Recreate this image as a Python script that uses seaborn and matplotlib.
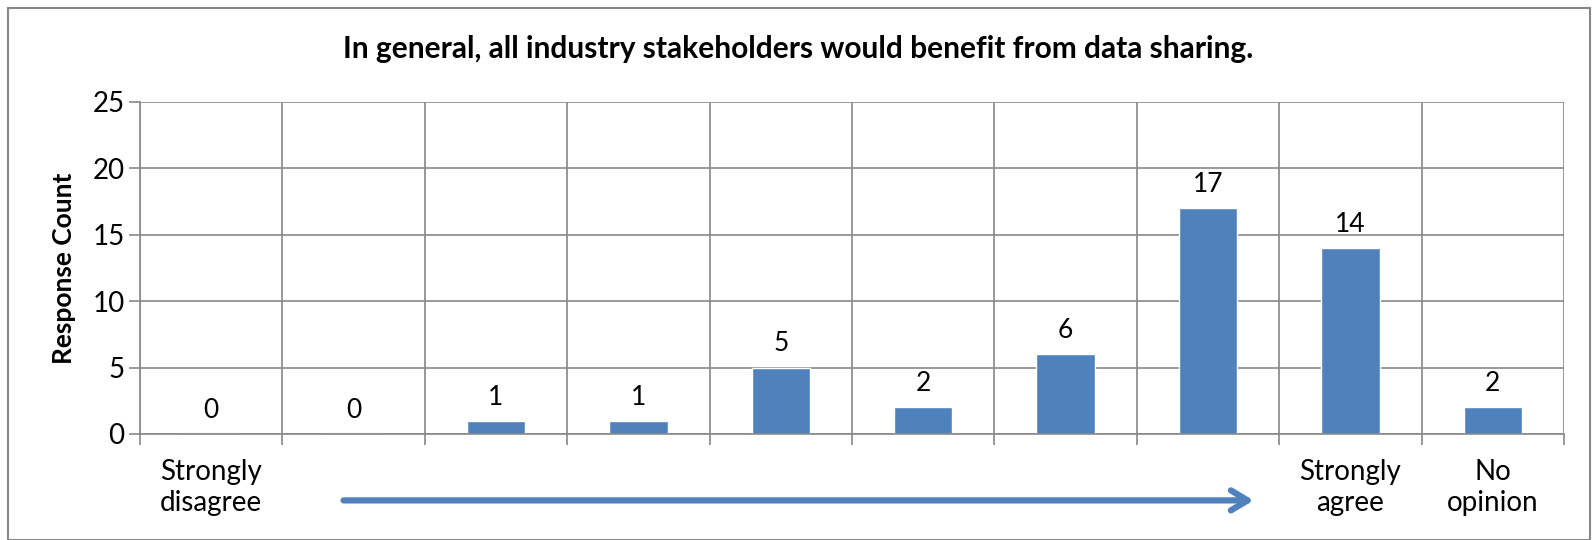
import numpy as np
import seaborn as sns
import matplotlib.pyplot as plt
from matplotlib.patches import Rectangle

# data
categories = ["1", "2", "3", "4", "5", "6", "7", "8", "9", "10"]
counts = [0, 0, 1, 1, 5, 2, 6, 17, 14, 2]
tick_labels = ["Strongly\ndisagree", "", "", "", "", "", "", "", "Strongly\nagree", "No\nopinion"]

sns.set_theme(style="white")
plt.rcParams["font.family"] = ["Lato", "DejaVu Sans"]

fig = plt.figure(figsize=(15.96, 5.4), dpi=100)
ax = fig.add_axes([140 / 1596, 1 - 434 / 540, 1424 / 1596, 332 / 540])

sns.barplot(x=categories, y=counts, color="#4F81BD", width=0.41, saturation=1, ax=ax)

for c in ax.containers:
    ax.bar_label(c, padding=8, fontsize=19, color="black")

ax.set_xlim(-0.5, 9.5)
ax.set_ylim(0, 25)
ax.set_yticks(range(0, 26, 5))
ax.set_xticks(range(10))
ax.set_xticklabels(tick_labels, fontsize=20, color="black", linespacing=1.25)
ax.set_xticks(np.arange(-0.5, 10, 1), minor=True)
ax.tick_params(axis="x", which="major", length=0, pad=18)
ax.tick_params(axis="x", which="minor", length=8, width=1.2, color="#888888", direction="out", bottom=True)
ax.tick_params(axis="y", length=8, width=1.2, color="#888888", direction="out", left=True,
               labelsize=20, labelcolor="black", pad=3)

ax.grid(axis="y", color="#888888", linewidth=1.2)
ax.grid(axis="x", which="minor", color="#888888", linewidth=1.2)
ax.set_axisbelow(True)
for s in ["top", "right"]:
    ax.spines[s].set_visible(False)
for s in ["left", "bottom"]:
    ax.spines[s].set_color("#888888")
    ax.spines[s].set_linewidth(1.2)

ax.set_xlabel("")
ax.set_ylabel("Response Count", fontsize=19, fontweight="bold", color="black", labelpad=12)

fig.text(0.5, 1 - 49 / 540, "In general, all industry stakeholders would benefit from data sharing.",
         ha="center", va="center", fontsize=21.5, fontweight="bold", color="black")

# direction arrow under the axis
trans = ax.get_xaxis_transform()
ax.annotate("", xy=(7.34, -0.2), xytext=(0.91, -0.2), xycoords=trans, textcoords=trans,
            arrowprops=dict(arrowstyle="->,head_length=1.0,head_width=0.6", color="#4F81BD", lw=4.5),
            annotation_clip=False)

# outer chart border
fig.patches.append(Rectangle((8 / 1596, 0), 1582 / 1596, 1 - 8 / 540, transform=fig.transFigure,
                             fill=False, edgecolor="#888888", linewidth=1.5))

fig.savefig("out.png", dpi=100)
